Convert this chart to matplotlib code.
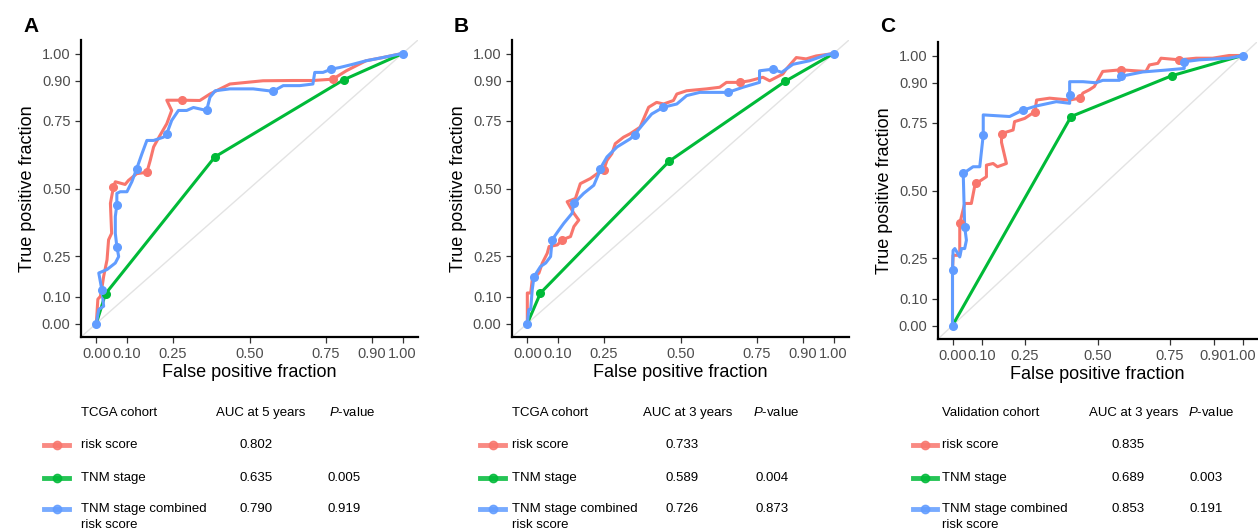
import matplotlib
matplotlib.use("Agg")
import matplotlib.pyplot as plt
from matplotlib.lines import Line2D

plt.rcParams["font.family"] = ["Liberation Sans", "DejaVu Sans"]
plt.rcParams["mathtext.fontset"] = "custom"
plt.rcParams["mathtext.it"] = "Liberation Sans:italic"
plt.rcParams["mathtext.rm"] = "Liberation Sans"

RED = "#F8766D"
GREEN = "#00BA38"
BLUE = "#619CFF"

ticks = [0.0, 0.10, 0.25, 0.50, 0.75, 0.90, 1.00]
tick_labels = ["0.00", "0.10", "0.25", "0.50", "0.75", "0.90", "1.00"]

# ---- Panel A (TCGA, 5 years) ----
a_red_x = [0, 0.005, 0.013, 0.018, 0.024, 0.035, 0.04, 0.05, 0.046, 0.056, 0.062, 0.094, 0.105, 0.132, 0.165,
           0.176, 0.187, 0.208, 0.23, 0.246, 0.23, 0.279, 0.338, 0.371, 0.436, 0.544, 0.642, 0.707, 0.772,
           0.816, 0.88, 0.935, 0.99, 1.0]
a_red_y = [0, 0.09, 0.1, 0.13, 0.175, 0.236, 0.31, 0.334, 0.445, 0.506, 0.525, 0.515, 0.53, 0.555, 0.56,
           0.604, 0.654, 0.697, 0.74, 0.789, 0.827, 0.827, 0.826, 0.85, 0.887, 0.899, 0.9, 0.9, 0.905,
           0.936, 0.973, 0.985, 0.998, 1.0]
a_red_dots = [9, 14, 21, 28]

a_blue_x = [0, 0.008, 0.024, 0.018, 0.008, 0.035, 0.062, 0.073, 0.067, 0.062, 0.062, 0.067, 0.067, 0.078,
            0.1, 0.116, 0.132, 0.149, 0.165, 0.187, 0.219, 0.23, 0.246, 0.268, 0.295, 0.317, 0.36, 0.371,
            0.388, 0.436, 0.512, 0.577, 0.61, 0.664, 0.707, 0.713, 0.74, 0.767, 0.794, 0.837, 0.88, 0.935,
            0.99, 1.0]
a_blue_y = [0, 0.052, 0.064, 0.125, 0.187, 0.2, 0.224, 0.248, 0.285, 0.334, 0.396, 0.439, 0.482, 0.488,
            0.488, 0.525, 0.574, 0.629, 0.678, 0.678, 0.69, 0.703, 0.752, 0.789, 0.789, 0.8, 0.789, 0.838,
            0.862, 0.869, 0.869, 0.86, 0.881, 0.881, 0.887, 0.93, 0.93, 0.942, 0.948, 0.96, 0.973, 0.985,
            0.998, 1.0]
a_blue_dots = [0, 3, 8, 11, 16, 21, 26, 31, 37, 43]

a_green_x = [0, 0.03, 0.387, 0.808, 1.0]
a_green_y = [0, 0.11, 0.617, 0.903, 1.0]
a_green_dots = [1, 2, 3]

# ---- Panel B (TCGA, 3 years) ----
b_red_x = [0, 0, 0.011, 0.016, 0.038, 0.049, 0.065, 0.071, 0.098, 0.114, 0.141, 0.152, 0.168, 0.152, 0.13,
           0.157, 0.173, 0.206, 0.228, 0.249, 0.26, 0.276, 0.287, 0.314, 0.336, 0.368, 0.396, 0.422, 0.445,
           0.477, 0.488, 0.52, 0.585, 0.628, 0.65, 0.693, 0.726, 0.769, 0.791, 0.834, 0.845, 0.878, 0.91,
           0.943, 1.0]
b_red_y = [0, 0.113, 0.113, 0.162, 0.187, 0.224, 0.26, 0.285, 0.291, 0.31, 0.322, 0.359, 0.383, 0.408, 0.451,
           0.463, 0.518, 0.537, 0.555, 0.568, 0.604, 0.629, 0.666, 0.69, 0.703, 0.727, 0.801, 0.819, 0.813,
           0.826, 0.85, 0.862, 0.869, 0.875, 0.893, 0.893, 0.899, 0.912, 0.899, 0.924, 0.942, 0.985, 0.98,
           0.991, 1.0]
b_red_dots = [9, 19, 35]

b_blue_x = [0, 0.005, 0.011, 0.016, 0.022, 0.043, 0.06, 0.076, 0.081, 0.103, 0.119, 0.146, 0.152, 0.184,
            0.217, 0.233, 0.238, 0.26, 0.293, 0.336, 0.35, 0.379, 0.406, 0.444, 0.488, 0.52, 0.563, 0.618,
            0.655, 0.704, 0.758, 0.758, 0.802, 0.83, 0.867, 0.921, 0.975, 1.0]
b_blue_y = [0, 0.052, 0.052, 0.125, 0.174, 0.211, 0.224, 0.248, 0.31, 0.346, 0.371, 0.408, 0.445, 0.482,
            0.512, 0.555, 0.574, 0.617, 0.654, 0.684, 0.7, 0.74, 0.776, 0.801, 0.813, 0.844, 0.856, 0.856,
            0.856, 0.875, 0.893, 0.936, 0.942, 0.93, 0.96, 0.973, 0.995, 1.0]
b_blue_dots = [0, 4, 8, 12, 16, 20, 23, 28, 32, 37]

b_green_x = [0, 0.043, 0.463, 0.842, 1.0]
b_green_y = [0, 0.113, 0.601, 0.897, 1.0]
b_green_dots = [1, 2, 3]

# ---- Panel C (Validation, 3 years) ----
c_red_x = [0, 0, 0.002, 0.025, 0.025, 0.042, 0.065, 0.076, 0.082, 0.117, 0.117, 0.14, 0.155, 0.186, 0.169,
           0.169, 0.209, 0.214, 0.249, 0.284, 0.29, 0.335, 0.404, 0.438, 0.45, 0.472, 0.489, 0.518, 0.58,
           0.622, 0.667, 0.679, 0.708, 0.719, 0.782, 0.84, 0.897, 0.954, 1.0]
c_red_y = [0, 0.2, 0.26, 0.26, 0.378, 0.452, 0.452, 0.513, 0.526, 0.551, 0.594, 0.6, 0.588, 0.6, 0.678,
           0.711, 0.724, 0.755, 0.767, 0.792, 0.835, 0.842, 0.835, 0.842, 0.861, 0.873, 0.885, 0.941, 0.947,
           0.944, 0.941, 0.965, 0.971, 0.99, 0.984, 0.99, 0.99, 1.0, 1.0]
c_red_dots = [4, 8, 15, 19, 23, 28, 34]

c_blue_x = [0, 0, 0.002, 0.008, 0.025, 0.031, 0.042, 0.048, 0.042, 0.037, 0.071, 0.094, 0.106, 0.106,
            0.197, 0.243, 0.289, 0.358, 0.404, 0.404, 0.404, 0.45, 0.495, 0.518, 0.576, 0.581, 0.656, 0.736,
            0.799, 0.799, 0.851, 0.954, 1.0]
c_blue_y = [0, 0.204, 0.278, 0.285, 0.254, 0.285, 0.285, 0.316, 0.365, 0.563, 0.588, 0.588, 0.705, 0.78,
            0.774, 0.798, 0.813, 0.829, 0.823, 0.854, 0.903, 0.903, 0.899, 0.908, 0.908, 0.923, 0.939, 0.946,
            0.952, 0.977, 0.984, 0.99, 1.0]
c_blue_dots = [0, 1, 8, 9, 12, 15, 19, 25, 29, 32]

c_green_x = [0, 0.409, 0.756, 1.0]
c_green_y = [0, 0.774, 0.925, 1.0]
c_green_dots = [1, 2]

# ---- tables ----
row_names = ["risk score", "TNM stage", "TNM stage combined"]
row_extra = "risk score"
colors = [RED, GREEN, BLUE]
cohorts = ["TCGA cohort", "TCGA cohort", "Validation cohort"]
auc_headers = ["AUC at 5 years", "AUC at 3 years", "AUC at 3 years"]
auc_values = [["0.802", "0.635", "0.790"],
              ["0.733", "0.589", "0.726"],
              ["0.835", "0.689", "0.853"]]
p_values = [["", "0.005", "0.919"],
            ["", "0.004", "0.873"],
            ["", "0.003", "0.191"]]
letters = ["A", "B", "C"]

W, H = 1258, 530
fig = plt.figure(figsize=(12.58, 5.3), dpi=100)

# pixel boxes: left, right, top, bottom
boxes = [(81, 418, 40, 337), (512, 849, 40, 337), (938, 1257, 42, 339)]
# table columns: key start, key end, label x, auc header x, p header x, auc x, p x
tcols = [(44, 69, 81, 216, 329, 239, 328),
         (480, 505, 512, 643, 753, 666, 755),
         (913, 937, 942, 1089, 1188, 1112, 1190)]
row_y = [413, 445, 478, 509, 525]

curves = [
    [(a_red_x, a_red_y, a_red_dots, RED), (a_green_x, a_green_y, a_green_dots, GREEN),
     (a_blue_x, a_blue_y, a_blue_dots, BLUE)],
    [(b_red_x, b_red_y, b_red_dots, RED), (b_green_x, b_green_y, b_green_dots, GREEN),
     (b_blue_x, b_blue_y, b_blue_dots, BLUE)],
    [(c_red_x, c_red_y, c_red_dots, RED), (c_green_x, c_green_y, c_green_dots, GREEN),
     (c_blue_x, c_blue_y, c_blue_dots, BLUE)],
]

fs_tab = 9.5

for i, (l, r, t, b) in enumerate(boxes):
    ax = fig.add_axes([l / W, 1 - b / H, (r - l) / W, (b - t) / H])
    ax.axline((0, 0), (1, 1), color="#E3E3E3", lw=1.0, zorder=1)
    for xs, ys, dots, col in curves[i]:
        ax.plot(xs, ys, color=col, lw=2.2, solid_joinstyle="round", zorder=3)
        ax.plot([xs[k] for k in dots], [ys[k] for k in dots], "o", color=col, ms=5.5, zorder=4)
    ax.set_xlim(-0.05, 1.05)
    ax.set_ylim(-0.05, 1.05)
    ax.set_xticks(ticks)
    ax.set_xticklabels(tick_labels)
    ax.set_yticks(ticks)
    ax.set_yticklabels(tick_labels)
    for s in ["top", "right"]:
        ax.spines[s].set_visible(False)
    for s in ["left", "bottom"]:
        ax.spines[s].set_linewidth(1.6)
    ax.tick_params(labelsize=10.5, labelcolor="#4D4D4D", length=4, width=0.9, color="#333333")
    ax.set_xlabel("False positive fraction", fontsize=13, labelpad=2)
    ax.set_ylabel("True positive fraction", fontsize=13, labelpad=4)
    fig.text((l - 58) / W, 1 - 27 / H, letters[i], fontsize=15, fontweight="bold",
             va="center", ha="left")

    # table
    k0, k1, lx, ahx, phx, ax_, px_ = tcols[i]
    fig.text(lx / W, 1 - row_y[0] / H, cohorts[i], fontsize=fs_tab, va="center")
    fig.text(ahx / W, 1 - row_y[0] / H, auc_headers[i], fontsize=fs_tab, va="center")
    fig.text(phx / W, 1 - row_y[0] / H, r"$\mathit{P}$-value", fontsize=fs_tab, va="center")
    for j in range(3):
        yy = 1 - row_y[j + 1] / H
        fig.add_artist(Line2D([k0 / W, k1 / W], [yy, yy], color=colors[j], lw=3.5, alpha=0.85))
        fig.add_artist(Line2D([(k0 + k1) / 2 / W], [yy], marker="o", color=colors[j], ms=6, alpha=0.85))
        fig.text(lx / W, yy, row_names[j], fontsize=fs_tab, va="center")
        fig.text(ax_ / W, yy, auc_values[i][j], fontsize=fs_tab, va="center")
        fig.text(px_ / W, yy, p_values[i][j], fontsize=fs_tab, va="center")
    fig.text(lx / W, 1 - row_y[4] / H, row_extra, fontsize=fs_tab, va="center")

fig.savefig("out.png", dpi=100)
